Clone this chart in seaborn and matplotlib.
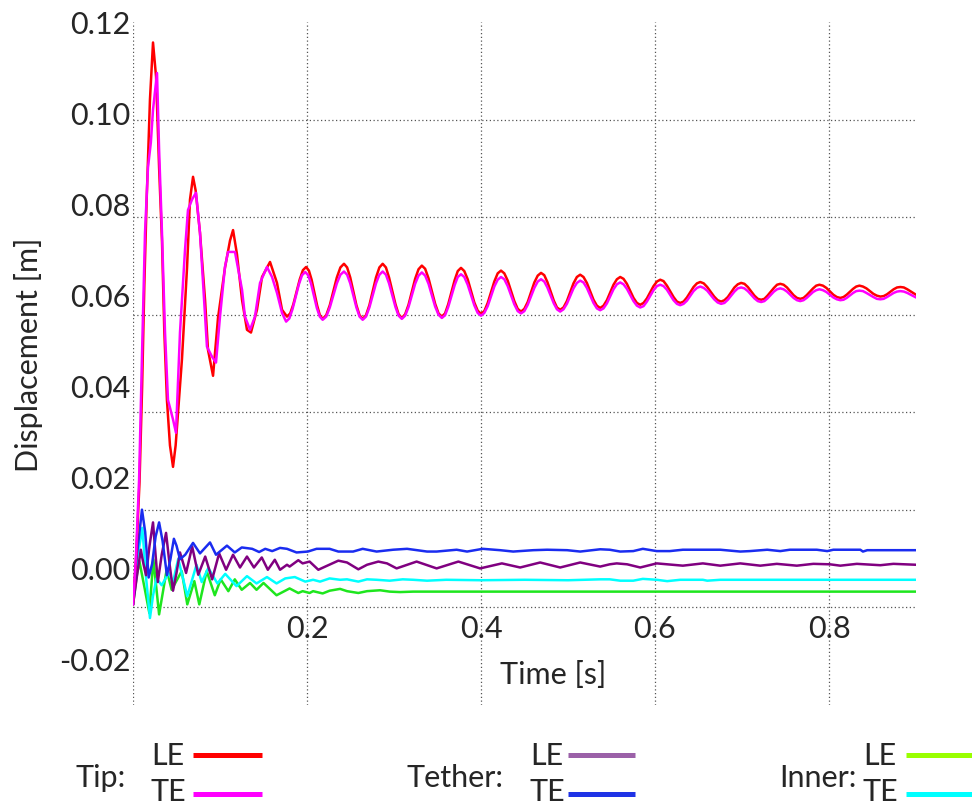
import numpy as np
import pandas as pd
import matplotlib
matplotlib.use("Agg")
import matplotlib.pyplot as plt
from matplotlib.lines import Line2D
import seaborn as sns

# ---- displacement histories: (time [s], displacement [m]) ----
tip_le = [
    (0.0, -0.008), (0.0035, 0.002), (0.0075, 0.019), (0.0105, 0.040), (0.013, 0.062),
    (0.0157, 0.081), (0.0195, 0.103), (0.023, 0.1155), (0.0265, 0.108), (0.030, 0.088),
    (0.0333, 0.072), (0.036, 0.052), (0.039, 0.037), (0.0425, 0.027), (0.046, 0.0223),
    (0.049, 0.027), (0.0525, 0.036), (0.0563, 0.046), (0.0621, 0.066), (0.0655, 0.081),
    (0.069, 0.086), (0.072, 0.083), (0.077, 0.0737), (0.0828, 0.059), (0.0862, 0.048),
    (0.092, 0.0423), (0.0977, 0.055), (0.1057, 0.066), (0.1115, 0.072), (0.115, 0.0743),
    (0.1195, 0.069), (0.1253, 0.059), (0.131, 0.0524), (0.1356, 0.0518), (0.1425, 0.0568),
    (0.1483, 0.064), (0.1575, 0.0673), (0.1655, 0.0627), (0.1713, 0.0568),
    (0.177, 0.0553), (0.1807, 0.0560), (0.1843, 0.0580), (0.1917, 0.0635), (0.1953, 0.0655),
    (0.199, 0.0662), (0.2022, 0.0654), (0.2053, 0.0634), (0.2117, 0.0577), (0.2148, 0.0556),
    (0.218, 0.0548), (0.2221, 0.0556), (0.2262, 0.0578), (0.2343, 0.0639), (0.2384, 0.0661),
    (0.2425, 0.0669), (0.2461, 0.0661), (0.2497, 0.0639), (0.2568, 0.0578), (0.2604, 0.0556),
    (0.264, 0.0548), (0.2678, 0.0556), (0.2717, 0.0578), (0.2793, 0.0639), (0.2832, 0.0661),
    (0.287, 0.0669), (0.2907, 0.0661), (0.2943, 0.0639), (0.3017, 0.0580), (0.3053, 0.0558),
    (0.309, 0.0550), (0.3128, 0.0558), (0.3167, 0.0579), (0.3243, 0.0636), (0.3282, 0.0657),
    (0.332, 0.0665), (0.3358, 0.0658), (0.3397, 0.0637), (0.3473, 0.0581), (0.3512, 0.0560),
    (0.355, 0.0553), (0.3587, 0.0560), (0.3623, 0.0580), (0.3697, 0.0633), (0.3733, 0.0653),
    (0.377, 0.0660), (0.3808, 0.0653), (0.3847, 0.0635), (0.3923, 0.0584), (0.3962, 0.0566),
    (0.400, 0.0559), (0.4038, 0.0565), (0.4077, 0.0583), (0.4153, 0.0630), (0.4192, 0.0648),
    (0.423, 0.0654), (0.4268, 0.0648), (0.4307, 0.0632), (0.4383, 0.0587), (0.4422, 0.0570),
    (0.446, 0.0564), (0.4498, 0.0570), (0.4537, 0.0585), (0.4613, 0.0628), (0.4652, 0.0643),
    (0.469, 0.0649), (0.4727, 0.0644), (0.4763, 0.0629), (0.4837, 0.0588), (0.4873, 0.0573),
    (0.491, 0.0568), (0.4948, 0.0573), (0.4987, 0.0587), (0.5063, 0.0626), (0.5102, 0.0640),
    (0.514, 0.0645), (0.5178, 0.0640), (0.5217, 0.0627), (0.5293, 0.0590), (0.5332, 0.0577),
    (0.537, 0.0572), (0.5408, 0.0577), (0.5447, 0.0589), (0.5523, 0.0623), (0.5562, 0.0635),
    (0.560, 0.0640), (0.5638, 0.0636), (0.5677, 0.0625), (0.5753, 0.0594), (0.5792, 0.0583),
    (0.583, 0.0579), (0.5868, 0.0583), (0.5907, 0.0593), (0.5983, 0.0620), (0.6022, 0.0630),
    (0.606, 0.0634), (0.6098, 0.0631), (0.6137, 0.0621), (0.6213, 0.0596), (0.6252, 0.0586),
    (0.629, 0.0583), (0.6328, 0.0586), (0.6367, 0.0595), (0.6443, 0.0618), (0.6482, 0.0626),
    (0.652, 0.0629), (0.656, 0.0626), (0.660, 0.0618), (0.668, 0.0597), (0.672, 0.0589),
    (0.676, 0.0586), (0.6798, 0.0589), (0.6837, 0.0596), (0.6913, 0.0617), (0.6952, 0.0624),
    (0.699, 0.0627), (0.7028, 0.0625), (0.7067, 0.0618), (0.7143, 0.0599), (0.7182, 0.0592),
    (0.722, 0.0590), (0.7257, 0.0592), (0.7293, 0.0599), (0.7367, 0.0616), (0.7403, 0.0623),
    (0.744, 0.0625), (0.7478, 0.0623), (0.7517, 0.0617), (0.7593, 0.0600), (0.7632, 0.0594),
    (0.767, 0.0592), (0.7707, 0.0594), (0.7743, 0.0600), (0.7817, 0.0615), (0.7853, 0.0621),
    (0.789, 0.0623), (0.793, 0.0621), (0.797, 0.0616), (0.805, 0.0601), (0.809, 0.0596),
    (0.813, 0.0594), (0.8167, 0.0596), (0.8203, 0.0601), (0.8277, 0.0614), (0.8313, 0.0619),
    (0.835, 0.0621), (0.839, 0.0619), (0.843, 0.0615), (0.851, 0.0603), (0.855, 0.0599),
    (0.859, 0.0597), (0.8628, 0.0598), (0.8667, 0.0602), (0.8743, 0.0613), (0.8782, 0.0617),
    (0.882, 0.0618), (0.886, 0.0617), (0.890, 0.0613), (0.895, 0.0607), (0.900, 0.0601),
]

tip_te = [
    (0.0, -0.008), (0.0035, 0.003), (0.007, 0.0195), (0.0105, 0.048), (0.0138, 0.0737),
    (0.0172, 0.088), (0.0205, 0.0935), (0.023, 0.1007), (0.0276, 0.1088), (0.030, 0.092),
    (0.0333, 0.0737), (0.0368, 0.0518), (0.0402, 0.037), (0.046, 0.0327), (0.0494, 0.0298),
    (0.054, 0.0518), (0.0598, 0.070), (0.0632, 0.0787), (0.0678, 0.081), (0.0724, 0.0825),
    (0.077, 0.0737), (0.0828, 0.0553), (0.085, 0.0487), (0.0908, 0.0465), (0.0954, 0.0452),
    (0.100, 0.0553), (0.1057, 0.0662), (0.1092, 0.0695), (0.1172, 0.0695), (0.1253, 0.0612),
    (0.1287, 0.0553), (0.1345, 0.0524), (0.1402, 0.0553), (0.146, 0.0627), (0.154, 0.0662),
    (0.1598, 0.064), (0.1655, 0.0605), (0.1713, 0.0561),
    (0.176, 0.0542), (0.1797, 0.0549), (0.1833, 0.0569), (0.1907, 0.0624), (0.1943, 0.0644),
    (0.198, 0.0651), (0.2013, 0.0644), (0.2047, 0.0625), (0.2113, 0.0572), (0.2147, 0.0553),
    (0.218, 0.0546), (0.2221, 0.0553), (0.2262, 0.0573), (0.2343, 0.0626), (0.2384, 0.0645),
    (0.2425, 0.0652), (0.2461, 0.0645), (0.2497, 0.0626), (0.2568, 0.0573), (0.2604, 0.0553),
    (0.264, 0.0546), (0.2678, 0.0553), (0.2717, 0.0573), (0.2793, 0.0626), (0.2832, 0.0645),
    (0.287, 0.0652), (0.2907, 0.0645), (0.2943, 0.0626), (0.3017, 0.0574), (0.3053, 0.0555),
    (0.309, 0.0548), (0.3128, 0.0555), (0.3167, 0.0574), (0.3243, 0.0625), (0.3282, 0.0643),
    (0.332, 0.0650), (0.3358, 0.0643), (0.3397, 0.0625), (0.3473, 0.0575), (0.3512, 0.0557),
    (0.355, 0.0550), (0.3587, 0.0556), (0.3623, 0.0574), (0.3697, 0.0622), (0.3733, 0.0640),
    (0.377, 0.0646), (0.3808, 0.0640), (0.3847, 0.0623), (0.3923, 0.0578), (0.3962, 0.0561),
    (0.400, 0.0555), (0.4038, 0.0561), (0.4077, 0.0576), (0.4153, 0.0619), (0.4192, 0.0634),
    (0.423, 0.0640), (0.4268, 0.0635), (0.4307, 0.0620), (0.4383, 0.0580), (0.4422, 0.0565),
    (0.446, 0.0560), (0.4498, 0.0565), (0.4537, 0.0579), (0.4613, 0.0616), (0.4652, 0.0630),
    (0.469, 0.0635), (0.4727, 0.0630), (0.4763, 0.0617), (0.4837, 0.0582), (0.4873, 0.0569),
    (0.491, 0.0564), (0.4948, 0.0569), (0.4987, 0.0581), (0.5063, 0.0615), (0.5102, 0.0627),
    (0.514, 0.0632), (0.5178, 0.0628), (0.5217, 0.0616), (0.5293, 0.0583), (0.5332, 0.0571),
    (0.537, 0.0567), (0.5408, 0.0571), (0.5447, 0.0582), (0.5523, 0.0613), (0.5562, 0.0624),
    (0.560, 0.0628), (0.5638, 0.0624), (0.5677, 0.0614), (0.5753, 0.0587), (0.5792, 0.0577),
    (0.583, 0.0573), (0.5868, 0.0576), (0.5907, 0.0586), (0.5983, 0.0611), (0.6022, 0.0620),
    (0.606, 0.0623), (0.6098, 0.0620), (0.6137, 0.0612), (0.6213, 0.0589), (0.6252, 0.0581),
    (0.629, 0.0578), (0.6328, 0.0581), (0.6367, 0.0588), (0.6443, 0.0609), (0.6482, 0.0616),
    (0.652, 0.0619), (0.656, 0.0616), (0.660, 0.0610), (0.668, 0.0591), (0.672, 0.0584),
    (0.676, 0.0581), (0.6798, 0.0583), (0.6837, 0.0590), (0.6913, 0.0608), (0.6952, 0.0615),
    (0.699, 0.0617), (0.7028, 0.0615), (0.7067, 0.0609), (0.7143, 0.0593), (0.7182, 0.0587),
    (0.722, 0.0585), (0.7257, 0.0587), (0.7293, 0.0593), (0.7367, 0.0608), (0.7403, 0.0613),
    (0.744, 0.0615), (0.7478, 0.0613), (0.7517, 0.0608), (0.7593, 0.0594), (0.7632, 0.0589),
    (0.767, 0.0587), (0.7707, 0.0589), (0.7743, 0.0594), (0.7817, 0.0607), (0.7853, 0.0611),
    (0.789, 0.0613), (0.793, 0.0611), (0.797, 0.0607), (0.805, 0.0595), (0.809, 0.0591),
    (0.813, 0.0589), (0.8167, 0.0590), (0.8203, 0.0594), (0.8277, 0.0605), (0.8313, 0.0609),
    (0.835, 0.0610), (0.839, 0.0609), (0.843, 0.0605), (0.851, 0.0596), (0.855, 0.0592),
    (0.859, 0.0591), (0.8628, 0.0592), (0.8667, 0.0596), (0.8743, 0.0605), (0.8782, 0.0608),
    (0.882, 0.0609), (0.886, 0.0608), (0.890, 0.0605), (0.895, 0.0600), (0.900, 0.0595),
]

tether_te = [
    (0.0, -0.008), (0.004, 0.002), (0.0103, 0.0129), (0.014, 0.008), (0.018, -0.002),
    (0.022, 0.001), (0.026, 0.007), (0.030, 0.0101), (0.034, 0.006), (0.039, -0.0015),
    (0.043, 0.002), (0.047, 0.0065), (0.050, 0.005), (0.054, 0.002), (0.060, 0.003),
    (0.069, 0.0056), (0.077, 0.0033), (0.0885, 0.0057), (0.0954, 0.0030), (0.108, 0.0050),
    (0.117, 0.0035), (0.125, 0.0046), (0.137, 0.0043), (0.145, 0.0036), (0.152, 0.0043),
    (0.160, 0.0038), (0.169, 0.0045), (0.177, 0.0043), (0.188, 0.0035), (0.201, 0.0037),
    (0.211, 0.0043), (0.226, 0.0043), (0.236, 0.0037), (0.253, 0.0037), (0.264, 0.0043),
    (0.280, 0.0037), (0.299, 0.0041), (0.315, 0.0043), (0.338, 0.0037), (0.349, 0.0037),
    (0.372, 0.0041), (0.384, 0.0037), (0.402, 0.0043), (0.422, 0.0040), (0.437, 0.0037),
    (0.460, 0.0040), (0.476, 0.0041), (0.499, 0.0040), (0.514, 0.0037), (0.537, 0.0042),
    (0.548, 0.0041), (0.560, 0.0037), (0.575, 0.0038), (0.586, 0.0043), (0.602, 0.0038),
    (0.617, 0.0038), (0.632, 0.0041), (0.652, 0.0041), (0.675, 0.0041), (0.698, 0.0037),
    (0.709, 0.0038), (0.729, 0.0041), (0.744, 0.0038), (0.755, 0.0041), (0.786, 0.0041),
    (0.798, 0.0038), (0.805, 0.0041), (0.836, 0.0041), (0.839, 0.0037), (0.844, 0.0040),
    (0.900, 0.0040),
]

tether_le = [
    (0.0, -0.008), (0.005, -0.001), (0.009, 0.0041), (0.012, 0.001), (0.015, -0.0015),
    (0.019, 0.005), (0.023, 0.0101), (0.0255, 0.004), (0.0285, -0.003), (0.033, 0.003),
    (0.038, 0.0078), (0.042, 0.001), (0.046, -0.0049), (0.050, -0.001), (0.054, 0.0035),
    (0.061, -0.001), (0.068, 0.0048), (0.075, -0.0014), (0.083, 0.0026), (0.091, -0.0024),
    (0.099, 0.0033), (0.107, -0.0003), (0.115, 0.0030), (0.123, 0.0002), (0.131, 0.0026),
    (0.139, 0.0002), (0.148, 0.0024), (0.155, -0.0003), (0.163, 0.0019), (0.169, -0.0003),
    (0.177, 0.0008), (0.180, 0.0004), (0.190, 0.0018), (0.195, 0.0011), (0.203, 0.0015),
    (0.213, -0.0003), (0.221, 0.0004), (0.236, 0.0017), (0.246, 0.0013), (0.259, -0.0002),
    (0.269, 0.0008), (0.282, 0.0015), (0.292, 0.0011), (0.303, 0.0000), (0.326, 0.0015),
    (0.349, 0.0000), (0.374, 0.0015), (0.399, 0.0000), (0.424, 0.0011), (0.445, 0.0002),
    (0.468, 0.0013), (0.491, 0.0002), (0.514, 0.0013), (0.537, 0.0004), (0.548, 0.0009),
    (0.556, 0.0011), (0.568, 0.0009), (0.583, 0.0002), (0.602, 0.0011), (0.632, 0.0006),
    (0.655, 0.0011), (0.675, 0.0006), (0.698, 0.0011), (0.721, 0.0006), (0.740, 0.0010),
    (0.763, 0.0006), (0.782, 0.0010), (0.801, 0.0009), (0.813, 0.0006), (0.832, 0.0010),
    (0.859, 0.0007), (0.874, 0.0010), (0.900, 0.0008),
]

inner_te = [
    (0.0, -0.008), (0.005, 0.002), (0.0107, 0.0089), (0.015, -0.002), (0.0195, -0.0109),
    (0.023, -0.006), (0.027, -0.0022), (0.033, -0.0037), (0.041, -0.001), (0.046, -0.003),
    (0.052, 0.0021), (0.0624, -0.0061), (0.073, 0.0008), (0.079, -0.003), (0.0866, 0.0001),
    (0.097, -0.0033), (0.106, -0.0012), (0.119, -0.0039), (0.131, -0.0017), (0.142, -0.0033),
    (0.154, -0.0019), (0.165, -0.0033), (0.175, -0.0022), (0.186, -0.0019), (0.198, -0.0029),
    (0.207, -0.0025), (0.215, -0.0029), (0.226, -0.0022), (0.238, -0.0025), (0.246, -0.0024),
    (0.259, -0.0029), (0.269, -0.0024), (0.280, -0.0025), (0.295, -0.0027), (0.310, -0.0024),
    (0.322, -0.0025), (0.338, -0.0027), (0.360, -0.0025), (0.400, -0.0026), (0.450, -0.0025),
    (0.500, -0.0026), (0.537, -0.0024), (0.548, -0.0024), (0.560, -0.0027), (0.575, -0.0027),
    (0.586, -0.0023), (0.602, -0.0025), (0.614, -0.0028), (0.629, -0.0025), (0.655, -0.0025),
    (0.660, -0.0027), (0.675, -0.0025), (0.750, -0.0025), (0.850, -0.0025), (0.900, -0.0025),
]

inner_le = [
    (0.0, -0.008), (0.004, -0.002), (0.0073, 0.0016), (0.013, -0.004), (0.0188, -0.0098),
    (0.0234, 0.002), (0.030, -0.0101), (0.0387, -0.0003), (0.0444, -0.0047), (0.056, -0.0006),
    (0.0624, -0.0079), (0.0705, -0.0028), (0.0762, -0.0079), (0.0847, -0.0006), (0.094, -0.0059),
    (0.1008, -0.0024), (0.1096, -0.0050), (0.117, -0.0024), (0.125, -0.0047), (0.1345, -0.0032),
    (0.142, -0.0047), (0.150, -0.0032), (0.165, -0.0059), (0.180, -0.0044), (0.190, -0.0054),
    (0.195, -0.0050), (0.203, -0.0054), (0.207, -0.0050), (0.218, -0.0055), (0.226, -0.0049),
    (0.238, -0.0045), (0.246, -0.0050), (0.259, -0.0054), (0.269, -0.0050), (0.284, -0.0048),
    (0.295, -0.0051), (0.307, -0.0052), (0.322, -0.0051), (0.400, -0.0051), (0.500, -0.0051),
    (0.600, -0.0051), (0.700, -0.0051), (0.800, -0.0051), (0.900, -0.0051),
]

y_tick_values = [0.12, 0.10, 0.08, 0.06, 0.04, 0.02, 0.00, -0.02]
x_tick_values = [0.2, 0.4, 0.6, 0.8]

# ---- style ----
sns.set_style("white")
plt.rcParams["font.family"] = ["Lato", "DejaVu Sans"]
FS = 22

curves = [
    ("Inner LE", inner_le, "#1ee61e"),
    ("Inner TE", inner_te, "#00ffff"),
    ("Tether LE", tether_le, "#800080"),
    ("Tether TE", tether_te, "#1a2cf0"),
    ("Tip LE", tip_le, "#ff0000"),
    ("Tip TE", tip_te, "#ff00ff"),
]
df = pd.concat([pd.DataFrame(pts, columns=["time", "disp"]).assign(curve=name)
                for name, pts, _ in curves], ignore_index=True)
palette = {name: c for name, _, c in curves}
order = [name for name, _, _ in curves]

W, H = 972, 807
fig = plt.figure(figsize=(W / 100, H / 100), dpi=100)
ax = fig.add_axes([133 / W, 102 / H, 783 / W, 683 / H])

sns.lineplot(data=df, x="time", y="disp", hue="curve", hue_order=order,
             palette=palette, estimator=None, sort=False, legend=False,
             linewidth=1.8, ax=ax)

ax.set_xlim(0, 0.9)
ax.set_ylim(-0.03, 0.12)

# the time axis sits inside the frame, just under the zero line
for side in ["top", "right", "left"]:
    ax.spines[side].set_visible(False)
ax.spines["bottom"].set_position(("data", -0.0085))
ax.spines["bottom"].set_color("none")

ax.set_xticks(x_tick_values)
ax.set_xticklabels([f"{v:.1f}" for v in x_tick_values])
ax.set_yticks(y_tick_values)
ax.set_yticklabels([f"{v:.2f}" for v in y_tick_values])
ax.tick_params(axis="both", which="both", length=0, labelsize=FS)
ax.tick_params(axis="y", pad=2)
ax.tick_params(axis="x", pad=6)

# dotted grid
ax.set_xticks([0.0], minor=True)
ax.set_yticks(np.linspace(-0.03, 0.12, 8)[1:], minor=True)
ax.tick_params(axis="both", which="minor", labelbottom=False, labelleft=False)
grid_kw = dict(color="#555555", linestyle=(0, (1, 2)), linewidth=0.9)
ax.grid(False)
ax.xaxis.grid(True, which="both", **grid_kw)
ax.yaxis.grid(True, which="minor", **grid_kw)
ax.set_axisbelow(True)

ax.set_xlabel("Time [s]", fontsize=FS)
ax.xaxis.set_label_coords(0.536, 0.044)
ax.xaxis.label.set_va("center")
ax.set_ylabel("Displacement [m]", fontsize=FS)
ax.yaxis.set_label_coords(-0.134, 0.512)
ax.yaxis.label.set_va("center")

# ---- legend along the bottom ----
def fx(px):
    return px / W

def fy(py):
    return 1 - py / H

legend_groups = [
    ("Tip:", 101, 168, (193, 262), "#ff0000", "#ff00ff"),
    ("Tether:", 455, 547, (568, 635), "#9b61a8", "#1f33e6"),
    ("Inner:", 818, 880, (906, 972), "#99ff00", "#00ffff"),
]
for title, tx, lx, (x0, x1), c_le, c_te in legend_groups:
    fig.text(fx(tx), fy(787), title, fontsize=FS, ha="center", va="baseline")
    fig.text(fx(lx), fy(765), "LE", fontsize=FS, ha="center", va="baseline")
    fig.text(fx(lx), fy(801), "TE", fontsize=FS, ha="center", va="baseline")
    fig.add_artist(Line2D([fx(x0), fx(x1)], [fy(755), fy(755)], color=c_le,
                          linewidth=3.6, solid_capstyle="butt"))
    fig.add_artist(Line2D([fx(x0), fx(x1)], [fy(794), fy(794)], color=c_te,
                          linewidth=3.6, solid_capstyle="butt"))

fig.savefig("out.png", dpi=100)
